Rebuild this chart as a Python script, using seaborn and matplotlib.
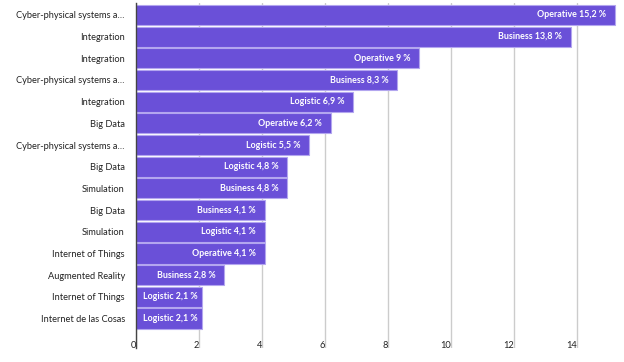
import numpy as np
import pandas as pd
import seaborn as sns
from matplotlib import pyplot as plt

## Data
categories = ['Cyber-physical systems a\u2026', 'Integration', 'Integration',
              'Cyber-physical systems a\u2026', 'Integration', 'Big Data',
              'Cyber-physical systems a\u2026', 'Big Data', 'Simulation',
              'Big Data', 'Simulation', 'Internet of Things',
              'Augmented Reality', 'Internet of Things', 'Internet de las Cosas']
groups = ['Operative', 'Business', 'Operative', 'Business', 'Logistic', 'Operative',
          'Logistic', 'Logistic', 'Business', 'Business', 'Logistic', 'Operative',
          'Business', 'Logistic', 'Logistic']
values = [15.2, 13.8, 9, 8.3, 6.9, 6.2, 5.5, 4.8, 4.8, 4.1, 4.1, 4.1, 2.8, 2.1, 2.1]
x_ticks = [0, 2, 4, 6, 8, 10, 12, 14]

df = pd.DataFrame({'row': [str(i) for i in range(len(values))],
                   'category': categories, 'group': groups, 'value': values})

## Plot
sns.set_style('white')
plt.rcParams['font.family'] = ['Lato', 'DejaVu Sans']

fig = plt.figure(figsize=(6.24, 3.62), dpi=100)
ax = fig.add_axes([136 / 624, 14 / 362, 484 / 624, 345 / 362])

sns.barplot(data=df, x='value', y='row', orient='h', ax=ax, color='#6a50d8',
            saturation=1, width=0.93, edgecolor='#b3a6ef', linewidth=0.8, zorder=3)

for i, (g, v) in enumerate(zip(groups, values)):
    txt = f'{g} {v:g} %'.replace('.', ',')
    pad = -5 if v < 2.5 else -9
    ax.annotate(txt, xy=(v, i), xytext=(pad, 0), textcoords='offset pixels',
                ha='right', va='center', color='white', fontsize=6.4, fontweight='bold')

ax.set_xlim(0, 15.37)
ax.set_ylim(len(values) - 1 + 1.36, -0.55)
ax.set_yticks(range(len(values)))
ax.set_yticklabels(categories, fontsize=6.7, color='#222222')
ax.set_xticks(x_ticks)
ax.set_xticklabels([str(t) for t in x_ticks], fontsize=6.7, color='#222222', ha='right')
ax.tick_params(axis='y', length=0, pad=8)
ax.tick_params(axis='x', length=0, pad=-5)
ax.xaxis.grid(True, color='#cccccc', linewidth=1, zorder=0)
ax.yaxis.grid(False)
ax.set_xlabel('')
ax.set_ylabel('')
for s in ['top', 'right', 'bottom']:
    ax.spines[s].set_visible(False)
ax.spines['left'].set_color('#444444')
ax.spines['left'].set_linewidth(1)
ax.spines['left'].set_zorder(4)

fig.savefig('out.png', dpi=100)
